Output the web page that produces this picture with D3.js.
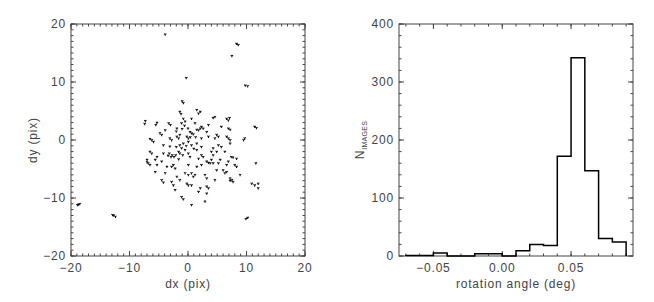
<!DOCTYPE html>
<html>
<head>
<meta charset="utf-8">
<script src="https://cdn.jsdelivr.net/npm/d3@7"></script>
<style>
  body { margin: 0; background: #fff; }
  svg text { font-family: "Liberation Sans", Arial, sans-serif; fill: #444; }
</style>
</head>
<body>
<svg id="chart" width="654" height="302"></svg>
<script>
// offsets of the images (pix)
const dx = [-3.9, 8.3, 8.6, 7.5, -0.3, 9.8, 10.2, -1.0, -0.8, -18.7, -18.9, -18.5, -12.7, -12.4, -12.9, 9.9, 10.2, 11.6,
  -7.3, -7.4, -5.3, -5.5, -3.3, -3.0, -1.4, -1.2, -0.8, -0.5, -1.1, -0.6, 0.6, 1.5, 2.1, 1.8,
  2.1, 2.3, 1.8, 2.6, 1.5, 3.5, 4.6, 4.3, 6.6, 6.9, 7.1, 5.7, 6.9, 7.2, 11.4, 11.7, 9.7, 9.5,
  6.6, 7.2, 7.2, 6.9, 4.9, 5.2, 3.5, 2.3, 0.35, 0.6, 0.9, -0.2, 0.06, 0.4, -1.4, -1.6, -1.9,
  -3.1, -2.8, -3.9, -4.8, -4.5, -6.2, -5.9, -6.5, -4.2, -1.4, -1.1, -0.8, 0.06, 0.6, 1.5, 2.3,
  4.3, 4.9, 5.7, 6.3, 7.4, 8.3, 7.7, -6.5, -6.2, -5.3, -3.2, -2.7, -2.4, -2.1, -2.9, -3.4,
  -1.6, -1.4, -0.5, 0.06, 0.35, 2.3, 2.6, 4.0, 4.3, 3.2, 3.8, 4.0, 4.3, 3.5, 5.5, 5.2, 2.3,
  6.9, 6.6, 8.0, 8.3, -7.0, -6.8, -6.5, -7.0, -5.6, -5.3, -5.6, -2.5, -2.2, -2.8, 0.06,
  -0.5, 0.06, 0.6, 0.9, 1.2, 2.9, 3.2, 6.0, 6.3, 6.6, 7.2, 7.5, 7.7, 7.2, 8.9, -3.9, -4.5, -4.2,
  -2.8, -2.5, -0.2, 0.06, 0.6, 2.1, 1.8, 3.2, 3.5, 3.2, -2.2, -1.1, -0.8, 0.6, 2.9,
  10.9, 11.4, 12.0, 12.0, -2.0, -1.0, 0.0, -0.3, 1.0, -2.0, -0.9, 1.3, -1.6, 1.8,
  -1.9, 1.2, 3.2, 4.6, -3.1, -4.2, 1.5, 5.2, -4.5, -3.6, 1.5, 4.9, -1.4, 4.6, -1.9];
const dy = [18.2, 16.6, 16.4, 14.5, 10.7, 9.4, 9.3, 6.7, 6.4, -11.1, -11.2, -11.0, -13.0, -13.2, -12.9, -13.6, -13.4, -4.0,
  3.3, 2.8, 3.0, 2.6, 2.9, 2.6, 4.9, 4.5, 3.7, 3.2, 2.9, 2.5, 3.7, 5.2, 4.9, 4.6,
  2.0, 2.3, 1.7, 2.0, 1.8, 2.6, 4.0, 3.8, 3.7, 3.4, 3.8, 2.3, 2.0, 1.8, 2.3, 2.1, 0.3, 0.0,
  0.6, 0.0, -0.6, 0.3, 0.9, 0.6, 0.6, 0.3, 1.4, 1.2, 1.0, 0.6, 0.3, 0.5, 0.9, 0.3, 0.6,
  0.3, 0.0, 1.7, 1.2, 0.9, 0.0, -0.3, 0.2, -0.9, -0.9, -1.4, -0.6, -0.3, -0.9, -0.6, -1.2,
  -1.4, -2.0, -1.2, -2.0, -2.9, -3.2, -3.0, -2.0, -2.3, -2.9, -2.3, -2.6, -2.9, -2.6, -2.9, -2.7,
  -2.0, -2.3, -1.7, -2.3, -2.9, -2.6, -2.9, -2.0, -2.6, -3.7, -4.0, -3.4, -4.0, -3.9, -3.4, -4.0, -4.3,
  -3.7, -4.3, -4.3, -4.6, -3.4, -4.0, -4.3, -3.8, -3.4, -4.3, -5.5, -4.3, -4.9, -4.6, -4.3,
  -5.7, -6.0, -5.7, -6.3, -6.0, -6.0, -6.6, -5.2, -5.7, -5.5, -6.6, -6.9, -7.2, -7.0, -6.0, -5.7, -6.9, -7.3,
  -7.2, -7.8, -7.5, -7.8, -7.8, -8.3, -8.9, -8.0, -8.3, -9.2, -8.6, -9.8, -10.2, -11.2, -10.6,
  -7.5, -7.8, -7.5, -8.3, 1.5, 1.9, 2.0, -1.0, -1.5, -1.2, -2.6, 0.5, -3.3, -3.2,
  2.0, 2.9, 1.4, 0.3, -1.1, -2.3, -1.7, -0.9, -3.7, -4.6, -4.6, -5.2, -6.9, -6.9, -6.3];

// histogram of rotation angles (deg), bins of 0.01
const binStart = [-0.07, -0.06, -0.05, -0.04, -0.03, -0.02, -0.01, 0.00, 0.01, 0.02, 0.03, 0.04, 0.05, 0.06, 0.07, 0.08];
const nImages = [1, 1, 5, 0, 0, 4, 4, 0, 9, 20, 18, 172, 342, 147, 30, 24];
const binWidth = 0.01;

const svg = d3.select("#chart");
const top_ = 24, bottom = 256;

// draws the IDL style box: ticks inward on all four sides
function frame(g, x, y, xMajor, xMinor, yMajor, yMinor, xFmt, yFmt) {
  const [x0, x1] = x.range(), [y0, y1] = y.range();
  const tick = (vals, len, horiz) => {
    vals.forEach(v => {
      if (horiz) {
        g.append("line").attr("x1", x(v)).attr("x2", x(v)).attr("y1", y0).attr("y2", y0 - len);
        g.append("line").attr("x1", x(v)).attr("x2", x(v)).attr("y1", y1).attr("y2", y1 + len);
      } else {
        g.append("line").attr("y1", y(v)).attr("y2", y(v)).attr("x1", x0).attr("x2", x0 + len);
        g.append("line").attr("y1", y(v)).attr("y2", y(v)).attr("x1", x1).attr("x2", x1 - len);
      }
    });
  };
  tick(xMinor, 2.5, true);
  tick(xMajor, 5, true);
  tick(yMinor, 2.5, false);
  tick(yMajor, 5, false);
  g.selectAll("line").attr("stroke", "#444").attr("stroke-width", 1);
  g.append("rect").attr("x", x0).attr("y", y1).attr("width", x1 - x0).attr("height", y0 - y1)
    .attr("fill", "none").attr("stroke", "#444").attr("stroke-width", 1);

  g.selectAll(".xl").data(xMajor).join("text").attr("class", "xl")
    .attr("x", d => x(d)).attr("y", y0 + 16).attr("text-anchor", "middle")
    .attr("font-size", 12).attr("letter-spacing", 0.8).text(xFmt);
  g.selectAll(".yl").data(yMajor).join("text").attr("class", "yl")
    .attr("x", x0 - 5).attr("y", d => y(d) + 4).attr("text-anchor", "end")
    .attr("font-size", 12).attr("letter-spacing", 0.8).text(yFmt);
}

const minus = s => s.replace("-", "\u2212");

// ---------------- left: dx / dy scatter
const xL = d3.scaleLinear().domain([-20, 20]).range([71, 305]);
const yL = d3.scaleLinear().domain([-20, 20]).range([bottom, top_]);
const gL = svg.append("g");
frame(gL, xL, yL, [-20, -10, 0, 10, 20], d3.range(-20, 21, 1), [-20, -10, 0, 10, 20], d3.range(-20, 21, 1),
  d => minus(d3.format("d")(d)), d => minus(d3.format("d")(d)));

const sym = d3.symbol().type(d3.symbolWye).size(4);
gL.append("g").selectAll("path").data(dx.map((v, i) => [v, dy[i]])).join("path")
  .attr("d", sym)
  .attr("transform", d => `translate(${xL(d[0])},${yL(d[1])})`)
  .attr("fill", "#111");

gL.append("text").attr("x", 188).attr("y", 288).attr("text-anchor", "middle")
  .attr("font-size", 12).attr("letter-spacing", 0.8).text("dx (pix)");
gL.append("text").attr("transform", "translate(37,140) rotate(-90)").attr("text-anchor", "middle")
  .attr("font-size", 12).attr("letter-spacing", 0.8).text("dy (pix)");

// ---------------- right: rotation angle histogram
const xR = d3.scaleLinear().domain([-0.075, 0.095]).range([399, 633]);
const yR = d3.scaleLinear().domain([0, 400]).range([bottom, top_]);
const gR = svg.append("g");
frame(gR, xR, yR, [-0.05, 0, 0.05], d3.range(-0.07, 0.095, 0.01), [0, 100, 200, 300, 400], d3.range(0, 401, 20),
  d => minus(d3.format(".2f")(d)), d => d3.format("d")(d));

const steps = [[binStart[0], 0]];
binStart.forEach((b, i) => { steps.push([b, nImages[i]]); steps.push([b + binWidth, nImages[i]]); });
steps.push([binStart[binStart.length - 1] + binWidth, 0]);
gR.append("path").datum(steps)
  .attr("d", d3.line().x(d => xR(d[0])).y(d => yR(d[1])))
  .attr("fill", "none").attr("stroke", "#000").attr("stroke-width", 1.5);

gR.append("text").attr("x", 516).attr("y", 288).attr("text-anchor", "middle")
  .attr("font-size", 12).attr("letter-spacing", 0.8).text("rotation angle (deg)");
const ny = gR.append("text").attr("transform", "translate(364,140) rotate(-90)").attr("text-anchor", "middle")
  .attr("font-size", 12).attr("letter-spacing", 0.8);
ny.append("tspan").text("N");
ny.append("tspan").attr("font-size", 7).attr("dy", 3).attr("letter-spacing", 0.3).text("IMAGES");
</script>
</body>
</html>
